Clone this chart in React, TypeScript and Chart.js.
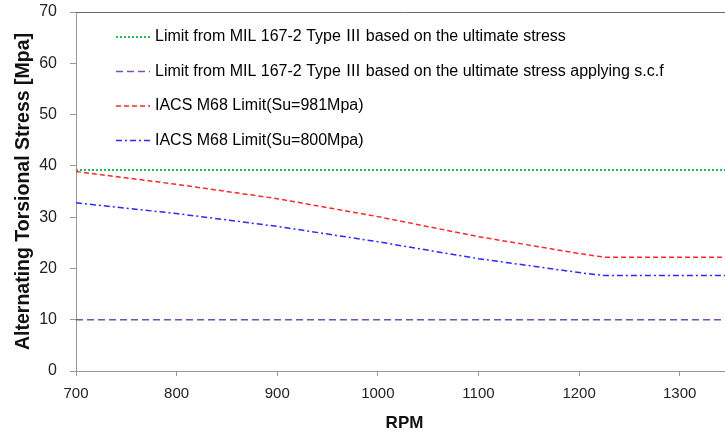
import { useEffect, useRef } from "react";
import { Chart, registerables } from "chart.js";

Chart.register(...registerables);

// Shaft speed (RPM) sample points
const rpm = [700, 800, 900, 1000, 1100, 1200, 1225, 1355];

// Permissible alternating torsional stress [MPa]
const milUltimate = [39.2, 39.2, 39.2, 39.2, 39.2, 39.2, 39.2, 39.2];
const milScf = [10, 10, 10, 10, 10, 10, 10, 10];
const iacs981 = [38.9, 36.4, 33.6, 30.1, 26.2, 22.9, 22.2, 22.2];
const iacs800 = [32.8, 30.7, 28.2, 25.2, 21.9, 19.2, 18.6, 18.6];

const seriesLabels = [
  "Limit from MIL 167-2 Type \u2162 based on the ultimate stress",
  "Limit from MIL 167-2 Type \u2162 based on the ultimate stress applying s.c.f",
  "IACS M68 Limit(Su=981Mpa)",
  "IACS M68 Limit(Su=800Mpa)",
];

const yTickValues = [0, 10, 20, 30, 40, 50, 60, 70];
const xTickValues = [700, 800, 900, 1000, 1100, 1200, 1300];

const FONT = "'Liberation Sans', Arial, 'Noto Sans CJK KR', sans-serif";

const toPoints = (ys: number[]) => rpm.map((x, i) => ({ x, y: ys[i] }));

// Legend drawn inside the plot area, one row per series
const insideLegend = {
  id: "insideLegend",
  afterDraw(chart: any) {
    const { ctx, chartArea } = chart;
    ctx.save();
    chart.data.datasets.forEach((ds: any, i: number) => {
      const y = chartArea.top + 25 + i * 34.5;
      ctx.beginPath();
      ctx.strokeStyle = ds.borderColor;
      ctx.lineWidth = ds.borderWidth;
      ctx.setLineDash(ds.borderDash || []);
      ctx.moveTo(116, y);
      ctx.lineTo(150, y);
      ctx.stroke();
      ctx.setLineDash([]);
      ctx.fillStyle = "#000";
      ctx.font = `16px ${FONT}`;
      ctx.textBaseline = "middle";
      ctx.textAlign = "left";
      ctx.fillText(ds.label, 155, y);
    });
    // top border of the plot area
    ctx.beginPath();
    ctx.strokeStyle = "#666";
    ctx.lineWidth = 1;
    ctx.moveTo(chartArea.left, chartArea.top + 0.5);
    ctx.lineTo(chartArea.right, chartArea.top + 0.5);
    ctx.stroke();
    ctx.restore();
  },
};

export default function App() {
  const canvasRef = useRef<HTMLCanvasElement | null>(null);

  useEffect(() => {
    if (!canvasRef.current) return;
    const chart = new Chart(canvasRef.current, {
      type: "line",
      data: {
        datasets: [
          {
            label: seriesLabels[0],
            data: toPoints(milUltimate),
            borderColor: "#22bb55",
            borderWidth: 2,
            borderDash: [2, 2],
            pointRadius: 0,
          },
          {
            label: seriesLabels[1],
            data: toPoints(milScf),
            borderColor: "#7a4fb0",
            borderWidth: 1.5,
            borderDash: [7, 4],
            pointRadius: 0,
          },
          {
            label: seriesLabels[2],
            data: toPoints(iacs981),
            borderColor: "#ff2a2a",
            borderWidth: 1.5,
            borderDash: [5, 3],
            pointRadius: 0,
          },
          {
            label: seriesLabels[3],
            data: toPoints(iacs800),
            borderColor: "#2a2aff",
            borderWidth: 1.5,
            borderDash: [6, 3, 2, 3],
            pointRadius: 0,
          },
        ],
      },
      options: {
        animation: false,
        responsive: false,
        layout: { padding: { top: 12, right: 0, left: 0, bottom: 0 } },
        plugins: {
          legend: { display: false },
          tooltip: { enabled: false },
        },
        scales: {
          x: {
            type: "linear",
            min: 700,
            max: 1353,
            afterFit: (s: any) => {
              s.height = 64;
              s.paddingLeft = 0;
              s.paddingRight = 0;
            },
            afterBuildTicks: (s: any) => {
              s.ticks = xTickValues.map((v) => ({ value: v }));
            },
            ticks: {
              includeBounds: false,
              font: { family: FONT, size: 15 },
              color: "#222",
              padding: 9,
              maxRotation: 0,
              callback: (v: any) => String(v),
            },
            grid: { drawOnChartArea: false, drawTicks: true, tickLength: 5, color: "#999" },
            border: { color: "#999" },
            title: {
              display: true,
              text: "RPM",
              font: { family: FONT, size: 17, weight: "bold" },
              color: "#111",
              padding: { top: 0, bottom: 1 },
            },
          },
          y: {
            min: 0,
            max: 70,
            afterFit: (s: any) => {
              s.width = 76;
              s.paddingTop = 0;
              s.paddingBottom = 0;
            },
            afterBuildTicks: (s: any) => {
              s.ticks = yTickValues.map((v) => ({ value: v }));
            },
            ticks: {
              font: { family: FONT, size: 16 },
              color: "#222",
              padding: 13,
            },
            grid: { drawOnChartArea: false, drawTicks: true, tickLength: 6, color: "#999" },
            border: { color: "#999" },
            title: {
              display: true,
              text: "Alternating Torsional Stress [Mpa]",
              font: { family: FONT, size: 19.5, weight: "bold" },
              color: "#111",
              padding: { top: 11.5, bottom: 0 },
            },
          },
        },
      },
      plugins: [insideLegend],
    });
    return () => chart.destroy();
  }, []);

  return (
    <div
      style={{
        position: "fixed",
        left: 0,
        top: 0,
        width: 725,
        height: 435,
        background: "#fff",
        overflow: "hidden",
      }}
    >
      <canvas ref={canvasRef} width={733} height={435} />
    </div>
  );
}
